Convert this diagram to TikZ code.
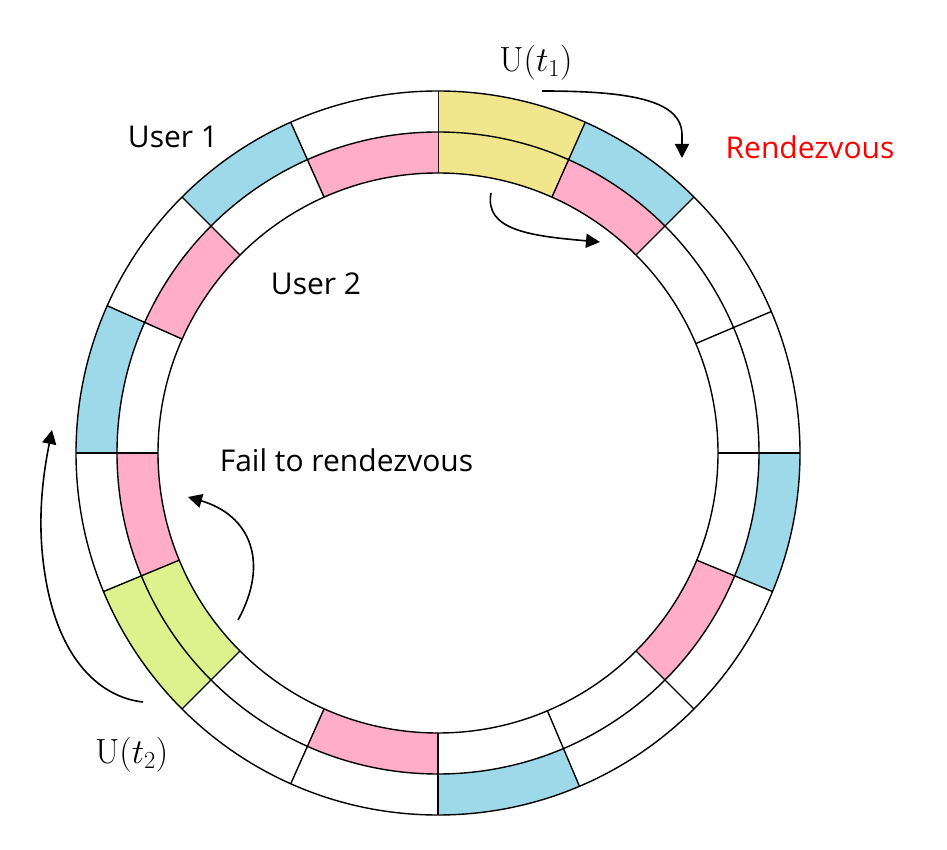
\documentclass[tikz,border=0pt]{standalone}
\usepackage{fix-cm}
\usepackage[no-math]{fontspec}
\setmainfont{Open Sans}
\usetikzlibrary{arrows.meta}
\definecolor{cblue}{RGB}{157,217,233}
\definecolor{cpink}{RGB}{255,173,200}
\definecolor{cyel}{RGB}{242,230,140}
\definecolor{cgreen}{RGB}{221,241,140}
\begin{document}
\begin{tikzpicture}[x=1pt,y=1pt,
  ring/.style={line width=1.4pt},
  arr/.style={line width=1.6pt,-{Triangle[width=14pt,length=14pt]}},
  lab/.style={font=\fontsize{30}{36}\selectfont, anchor=base, inner sep=0pt},
  mlab/.style={font=\fontsize{35}{42}\selectfont, anchor=base, inner sep=0pt}]
\useasboundingbox (0,0) rectangle (947,849);
\coordinate (O) at (438,396);
\begin{scope}[shift={(O)}]
\foreach \a/\b/\oc/\ic in {90/66/cyel/cyel, 66/45/cblue/cpink, 45/23/white/white,
  23/0/white/white, 0/-22.5/cblue/white, -22.5/-45/white/cpink, -45/-67/white/white,
  -67/-90/cblue/white, -90/-114/white/cpink, -114/-135/white/white,
  -135/-157.5/cgreen/cgreen, -157.5/-180/white/cpink, -180/-204/cblue/white,
  -204/-225/white/cpink, -225/-246/cblue/white, -246/-270/white/cpink}{
  \fill[\oc] (\a:321pt) arc[start angle=\a,end angle=\b,radius=321pt]
     -- (\b:362pt) arc[start angle=\b,end angle=\a,radius=362pt] -- cycle;
  \fill[\ic] (\a:280pt) arc[start angle=\a,end angle=\b,radius=280pt]
     -- (\b:321pt) arc[start angle=\b,end angle=\a,radius=321pt] -- cycle;
  \draw[ring] (\a:280pt) -- (\a:362pt);
}
\draw[ring] (0,0) circle[radius=362pt];
\draw[ring] (0,0) circle[radius=321pt];
\draw[ring] (0,0) circle[radius=280pt];
\end{scope}
\node[lab] (u1) at (173,701) {User 1};
\node[lab] (u2) at (316,554) {User 2};
\node[lab] (fail) at (346.5,377.3) {Fail to rendezvous};
\node[lab,text=red] (rdv) at (810,690.7) {Rendezvous};
\node[mlab] (ut1) at (536,777.3) {$\mathrm{U}(t_1)$};
\node[mlab] (ut2) at (131.7,85.7) {$\mathrm{U}(t_2)$};
\coordinate (a1s) at (542,758);
\coordinate (a1e) at (682,691);
\coordinate (a2s) at (491,656);
\coordinate (a2e) at (600,607);
\coordinate (a3s) at (238,229);
\coordinate (a3e) at (188,352);
\coordinate (a4s) at (143,147);
\coordinate (a4e) at (52,419);
\draw[arr] (a1s) .. controls (630,758) and (682,749) .. (682,714) -- (a1e);
\draw[arr] (a2s) .. controls (484,619) and (530,613) .. (a2e);
\draw[arr] (a3s) .. controls (270,287) and (250,334) .. (a3e);
\draw[arr] (a4s) .. controls (105,151) and (55,184) .. (43,289)
   .. controls (37.5,337) and (44,379) .. (a4e);
\end{tikzpicture}
\end{document}
